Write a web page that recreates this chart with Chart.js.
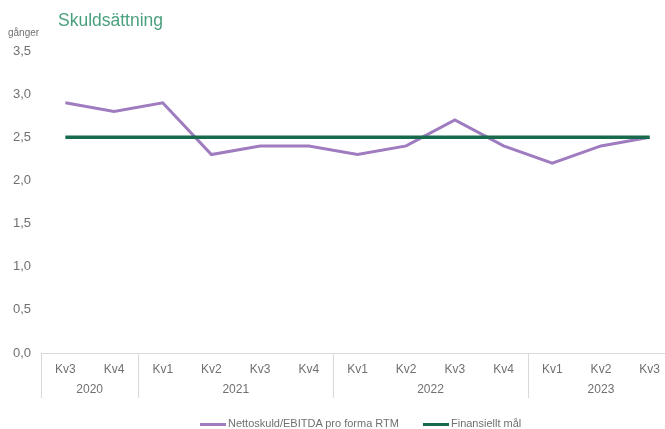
<!DOCTYPE html>
<html>
<head>
<meta charset="utf-8">
<script src="https://cdn.jsdelivr.net/npm/chart.js@4"></script>
<style>
  html, body { margin: 0; padding: 0; background: #fff; overflow: hidden; }
  body { width: 665px; height: 429px; position: relative; font-family: "Liberation Sans", Arial, sans-serif; }
  #wrap { position: absolute; left: 0; top: 0; width: 680px; height: 429px; }
  #title { position: absolute; left: 58px; top: 10px; font-size: 17.5px; color: #4aa07c; }
  #unit { position: absolute; left: 8px; top: 27px; font-size: 10px; color: #707070; }
  #legend { position: absolute; left: 200px; top: 417px; font-size: 11px; color: #707070; white-space: nowrap; }
  #legend span.sw { display: inline-block; width: 26px; height: 3px; vertical-align: middle; margin-right: 2px; }
  #legend span.item { margin-right: 24px; }
</style>
</head>
<body>
<div id="wrap"><canvas id="debtChart"></canvas></div>
<div id="title">Skuldsättning</div>
<div id="unit">gånger</div>
<div id="legend"></div>
<script>
// quarters on the x axis, grouped by year underneath
const quarters = ['Kv3', 'Kv4', 'Kv1', 'Kv2', 'Kv3', 'Kv4', 'Kv1', 'Kv2', 'Kv3', 'Kv4', 'Kv1', 'Kv2', 'Kv3'];
const years = ['2020', '2021', '2022', '2023'];
const quartersPerYear = [2, 4, 4, 3];

const nettoskuld = [2.9, 2.8, 2.9, 2.3, 2.4, 2.4, 2.3, 2.4, 2.7, 2.4, 2.2, 2.4, 2.5];
const finansielltMal = [2.5, 2.5, 2.5, 2.5, 2.5, 2.5, 2.5, 2.5, 2.5, 2.5, 2.5, 2.5, 2.5];

const yTicks = [0, 0.5, 1, 1.5, 2, 2.5, 3, 3.5];

const purple = '#9f7bbf';
const green = '#176a4c';
const textGray = '#707070';
const lineGray = '#d9d9d9';

// draws the year row and the separators between years
const yearRows = {
  id: 'yearRows',
  afterDraw(chart) {
    const x = chart.scales.x;
    const ctx = chart.ctx;
    const step = x.getPixelForValue(1) - x.getPixelForValue(0);
    const top = chart.chartArea.bottom;
    ctx.save();
    ctx.strokeStyle = lineGray;
    ctx.lineWidth = 1;
    ctx.fillStyle = textGray;
    ctx.font = '12px "Liberation Sans", Arial, sans-serif';
    ctx.textAlign = 'center';
    ctx.textBaseline = 'middle';
    let start = 0;
    years.forEach((yr, i) => {
      const end = start + quartersPerYear[i] - 1;
      const left = Math.round(x.getPixelForValue(start) - step / 2) + 0.5;
      ctx.beginPath();
      ctx.moveTo(left, top);
      ctx.lineTo(left, top + 45);
      ctx.stroke();
      const mid = (x.getPixelForValue(start) + x.getPixelForValue(end)) / 2;
      ctx.fillText(yr, mid, top + 37);
      start = end + 1;
    });
    ctx.restore();
  }
};

new Chart(document.getElementById('debtChart'), {
  type: 'line',
  data: {
    labels: quarters,
    datasets: [
      {
        label: 'Nettoskuld/EBITDA pro forma RTM',
        data: nettoskuld,
        borderColor: purple,
        backgroundColor: purple,
        borderWidth: 3,
        pointRadius: 0,
        tension: 0,
        order: 1
      },
      {
        label: 'Finansiellt mål',
        data: finansielltMal,
        borderColor: green,
        backgroundColor: green,
        borderWidth: 3.5,
        pointRadius: 0,
        tension: 0,
        order: 0
      }
    ]
  },
  options: {
    responsive: true,
    maintainAspectRatio: false,
    animation: false,
    layout: { padding: { top: 51, right: 6, bottom: 0, left: 0 } },
    plugins: {
      legend: { display: false },
      tooltip: { enabled: false }
    },
    scales: {
      x: {
        offset: true,
        grid: { display: false, drawTicks: false },
        border: { display: true, color: lineGray, width: 1 },
        ticks: {
          color: textGray,
          padding: 9,
          maxRotation: 0,
          autoSkip: false,
          font: { size: 12, family: '"Liberation Sans", Arial, sans-serif' }
        },
        afterFit(scale) { scale.height = 76; }
      },
      y: {
        min: 0,
        max: 3.5,
        afterBuildTicks(scale) { scale.ticks = yTicks.map(v => ({ value: v })); },
        grid: { display: false, drawTicks: false },
        border: { display: false },
        ticks: {
          color: textGray,
          padding: 10,
          font: { size: 13, family: '"Liberation Sans", Arial, sans-serif' },
          callback: v => v.toFixed(1).replace('.', ',')
        },
        afterFit(scale) { scale.width = 41; }
      }
    }
  },
  plugins: [yearRows]
});

// legend below the plot
const legendEl = document.getElementById('legend');
legendEl.innerHTML = [
  { label: 'Nettoskuld/EBITDA pro forma RTM', color: purple },
  { label: 'Finansiellt mål', color: green }
].map(d => `<span class="item"><span class="sw" style="background:${d.color}"></span>${d.label}</span>`).join('');
</script>
</body>
</html>
